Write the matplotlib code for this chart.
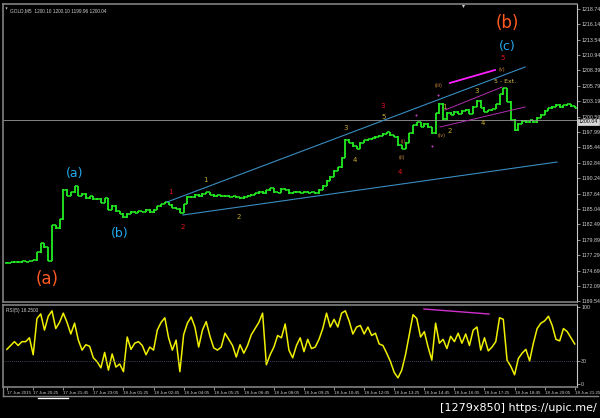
import numpy as np
import matplotlib
matplotlib.use('Agg')
from matplotlib import pyplot
from matplotlib.lines import Line2D

#
# data (one value per bar, 10 min each)
#

close = [
    1176.0, 1176.1, 1176.2, 1176.1, 1176.3, 1176.2, 1176.3, 1176.4, 1177.8, 1179.3,
    1178.6, 1176.3, 1182.3, 1181.8, 1183.3, 1188.3, 1187.3, 1187.9, 1188.9, 1187.3,
    1187.6, 1186.9, 1187.2, 1186.7, 1186.8, 1186.1, 1186.9, 1184.9, 1185.6, 1184.7,
    1184.3, 1183.7, 1184.3, 1184.6, 1184.4, 1184.7, 1184.6, 1184.9, 1184.5, 1184.9,
    1185.5, 1185.9, 1186.2, 1185.8, 1185.3, 1185.1, 1184.4, 1185.9, 1187.1, 1187.0,
    1187.5, 1187.2, 1187.6, 1187.9, 1187.5, 1187.2, 1187.4, 1187.2, 1187.3, 1187.1,
    1187.2, 1187.0, 1186.9, 1187.1, 1187.3, 1187.5, 1187.7, 1188.0, 1187.7, 1188.2,
    1188.6, 1187.9, 1187.8, 1188.5, 1188.3, 1187.7, 1187.9, 1188.0, 1187.8, 1188.0,
    1187.8, 1187.9, 1187.7, 1188.3, 1189.0, 1189.8, 1190.5, 1191.5, 1192.1, 1193.7,
    1196.7, 1196.2, 1195.6, 1195.2, 1196.2, 1196.6, 1196.8, 1197.0, 1197.2, 1197.4,
    1197.7, 1198.0, 1197.5, 1197.2, 1195.8, 1195.2, 1196.2, 1197.8, 1199.2, 1199.7,
    1198.9, 1199.4, 1198.8, 1197.8, 1201.2, 1202.8, 1200.2, 1201.3, 1200.9, 1201.4,
    1201.1, 1201.6, 1201.8, 1201.1, 1202.3, 1203.3, 1202.1, 1201.4, 1201.7, 1201.9,
    1202.7, 1204.4, 1205.4, 1203.1, 1200.1, 1198.3, 1199.4, 1199.9, 1199.7, 1200.0,
    1199.7, 1200.4, 1200.9, 1201.6, 1202.0, 1202.3, 1202.6, 1202.2, 1202.5, 1202.7,
    1202.4, 1202.1,
]

rsi = [
    45, 50, 55, 50, 55, 55, 60, 38, 85, 91,
    70, 88, 95, 72, 80, 92, 80, 65, 79, 57,
    44, 51, 49, 34, 29, 21, 41, 18, 39, 22,
    26, 16, 61, 45, 53, 55, 50, 38, 48, 44,
    70, 80, 86, 60, 44, 57, 16, 64, 79, 87,
    74, 48, 70, 81, 62, 47, 44, 48, 66, 58,
    50, 35, 51, 40, 50, 64, 72, 80, 92, 25,
    38, 48, 63, 60, 78, 44, 34, 50, 60, 42,
    58, 46, 48, 58, 72, 92, 74, 84, 74, 92,
    95, 82, 65, 74, 76, 65, 74, 63, 66, 52,
    50, 40, 29, 15, 8, 18, 38, 64, 90, 85,
    61, 68, 48, 31, 79, 53, 58, 46, 62, 55,
    66, 53, 65, 50, 70, 74, 44, 60, 43, 48,
    55, 86, 84, 31, 23, 12, 33, 40, 45, 30,
    53, 72, 79, 82, 88, 76, 58, 56, 72, 68,
    60, 52,
]

last_price = 1200.04
rsi_level = 30

price_ticks = [1218.74, 1216.14, 1213.54, 1210.94, 1208.39, 1205.79, 1203.19,
               1200.59, 1197.99, 1195.44, 1192.84, 1190.24, 1187.64, 1185.04,
               1182.49, 1179.89, 1177.29, 1174.69, 1172.09, 1169.54]

time_bars = [0, 7, 15, 23, 31, 39, 47, 55, 63, 71, 79, 87, 95, 103, 111,
             119, 127, 135, 143, 151]
time_labels = ['17 Jun 2015', '17 Jun 20:25', '17 Jun 21:45', '17 Jun 23:05',
               '18 Jun 01:25', '18 Jun 02:45', '18 Jun 04:05', '18 Jun 05:25',
               '18 Jun 06:45', '18 Jun 08:05', '18 Jun 09:25', '18 Jun 10:45',
               '18 Jun 12:05', '18 Jun 13:25', '18 Jun 14:45', '18 Jun 16:05',
               '18 Jun 17:25', '18 Jun 18:45', '18 Jun 20:05', '18 Jun 21:25']

# wave labels: (text, bar, price, colour, size)
RED = '#e8141e'
YEL = '#c8aa30'
ORG = '#d08a3c'
BLUE = '#22aaf0'
BIG = '#ff5a22'
waves = [
    ('(a)', 10.7, 1173.3, BIG, 12),
    ('(a)', 18.1, 1191.0, BLUE, 9),
    ('(b)', 30.1, 1180.9, BLUE, 9),
    ('1', 43.6, 1187.9, RED, 5),
    ('2', 46.8, 1182.0, RED, 5),
    ('1', 52.9, 1189.9, YEL, 5),
    ('2', 61.7, 1183.7, YEL, 5),
    ('3', 90.2, 1198.7, YEL, 5),
    ('4', 92.6, 1193.3, YEL, 5),
    ('3', 100.0, 1202.4, RED, 5),
    ('5', 100.3, 1200.6, YEL, 5),
    ('(i)', 105.4, 1196.5, ORG, 3.5),
    ('(ii)', 105.1, 1193.7, ORG, 3.5),
    ('4', 104.6, 1191.3, RED, 5),
    ('(iii)', 114.7, 1205.9, ORG, 3.5),
    ('(iv)', 115.7, 1197.5, ORG, 3.5),
    ('1', 116.3, 1202.2, YEL, 5),
    ('2', 117.8, 1198.2, YEL, 5),
    ('3', 125.0, 1204.9, YEL, 5),
    ('4', 126.6, 1199.5, YEL, 5),
    ('5 - Ext.', 132.5, 1206.6, '#d2be50', 4.5),
    ('(v)', 131.7, 1208.6, ORG, 3.5),
    ('5', 131.7, 1210.5, RED, 5),
    ('(c)', 133.0, 1212.5, BLUE, 9),
    ('(b)', 133.0, 1216.4, BIG, 12),
]

# trend lines: (bar0, price0, bar1, price1, colour, width)
trend = [
    (42.6, 1186.24, 137.8, 1208.97, '#3a8cc0', 0.8),
    (46.8, 1184.05, 146.3, 1192.97, '#3a8cc0', 0.8),
    (116.5, 1201.73, 131.7, 1205.60, '#b030b0', 0.7),
    (115.2, 1198.87, 137.8, 1202.24, '#b030b0', 0.7),
    (117.8, 1206.28, 129.8, 1208.47, '#ff20ff', 1.3),
]
rsi_trend = (110.9, 97.4, 128.2, 90.9)
marks_bar = [108.8, 114.7, 113.1]
marks_price = [1200.9, 1204.3, 1195.7]

#
# figure
#

W, H = 600, 418
fig = pyplot.figure(figsize=(W / 100, H / 100), dpi=100, facecolor='black')
GRAY = '#808080'
TXT = '#d0d0d0'
FONT = 'Liberation Sans'


def fx(px):
    return px / W


def fy(py):
    return 1 - py / H


def fline(x0, y0, x1, y1, color=GRAY, lw=1.0):
    fig.add_artist(Line2D([fx(x0), fx(x1)], [fy(y0), fy(y1)], color=color,
                          lw=lw, transform=fig.transFigure))


ax = fig.add_axes([fx(3), fy(302), fx(577) - fx(3), fy(4) - fy(302)])
ax2 = fig.add_axes([fx(3), fy(387), fx(577) - fx(3), fy(305) - fy(387)])

xlim = (-1.03, 151.6)
for a in (ax, ax2):
    a.set_facecolor('black')
    a.set_xlim(*xlim)
    for s in ('left', 'top', 'bottom'):
        a.spines[s].set_color(GRAY)
        a.spines[s].set_linewidth(1.2)
    a.spines['right'].set_color('#c8c8c8')
    a.spines['right'].set_linewidth(0.8)
    a.yaxis.tick_right()
    a.tick_params(axis='y', length=2, width=0.5, color='#c8c8c8',
                  labelcolor=TXT, labelsize=3.8, pad=1)

# price bars
x = np.arange(len(close))
c = np.array(close)
o = np.concatenate([[c[0]], c[:-1]])
green = '#22ee22'
ax.vlines(x, np.minimum(o, c) - 0.08, np.maximum(o, c) + 0.08, color=green,
          lw=1.3)
ax.hlines(o, x - 0.5, x, color=green, lw=1.1)
ax.hlines(c, x, x + 0.5, color=green, lw=1.1)

ax.axhline(last_price, color='#9a9a9a', lw=0.6)
ax.set_ylim(1169.40, 1219.58)
ax.set_yticks(price_ticks)
ax.set_yticklabels(['%.2f' % p for p in price_ticks], family=FONT)
ax.set_xticks([])
ax.text(1.003, (last_price - 1169.40) / (1219.58 - 1169.40) - 0.006,
        '%.2f' % last_price, transform=ax.transAxes, ha='left', va='center',
        fontsize=3.8, family=FONT, color='black', zorder=10,
        bbox=dict(boxstyle='square,pad=0.15', fc='#d8d8d8', ec='white', lw=0.4))

for b0, p0, b1, p1, col, lw in trend:
    ax.plot([b0, b1], [p0, p1], color=col, lw=lw)

ax.plot(marks_bar, marks_price, ls='', marker='o', ms=1.5, color='#c040c0',
        mec='none')

for t, b, p, col, sz in waves:
    ax.text(b, p, t, color=col, fontsize=sz, ha='center', va='center',
            family='DejaVu Sans')

ax.text(0.013, 0.987, 'GOLD,M5  1200.10 1200.10 1199.96 1200.04',
        transform=ax.transAxes, ha='left', va='top', fontsize=3.4,
        color=TXT, family=FONT)
ax.plot([0.005], [0.985], transform=ax.transAxes, marker='v', ms=1.6,
        color=TXT, mec='none')
ax.plot([0.801], [0.993], transform=ax.transAxes, marker='v', ms=2.2,
        color='#c8c8c8', mec='none', clip_on=False)

# rsi panel
ax2.plot(x, rsi, color='#f0f000', lw=1.1)
ax2.axhline(rsi_level, color='#5a5a80', lw=0.6, ls=(0, (1, 1.5)))
b0, r0, b1, r1 = rsi_trend
ax2.plot([b0, b1], [r0, r1], color='#d030d0', lw=1.0)
ax2.set_ylim(-3.9, 102.6)
ax2.set_yticks([100, rsi_level, 0])
ax2.set_yticklabels(['100', str(rsi_level), '0'], family=FONT)
ax2.text(0.006, 0.96, 'RSI(5) 16.2500', transform=ax2.transAxes, ha='left',
         va='top', fontsize=3.4, color=TXT, family=FONT)

ax2.set_xticks(time_bars)
ax2.set_xticklabels(time_labels, family=FONT)
ax2.tick_params(axis='x', length=2, width=0.5, color='#c8c8c8',
                labelcolor=TXT, labelsize=3.2, pad=0.6)
for lab in ax2.get_xticklabels():
    lab.set_ha('left')

# window frame and scroll marker
fline(3, 396, 598, 396)
fline(3, 387, 3, 396)
fline(38, 397.5, 68, 397.5, color='white', lw=1.0)

fig.text(fx(597), fy(408), '[1279x850] https://upic.me/', ha='right',
         va='center', fontsize=8, color='white', family='DejaVu Sans')

fig.savefig('out.png', dpi=100, facecolor='black')
